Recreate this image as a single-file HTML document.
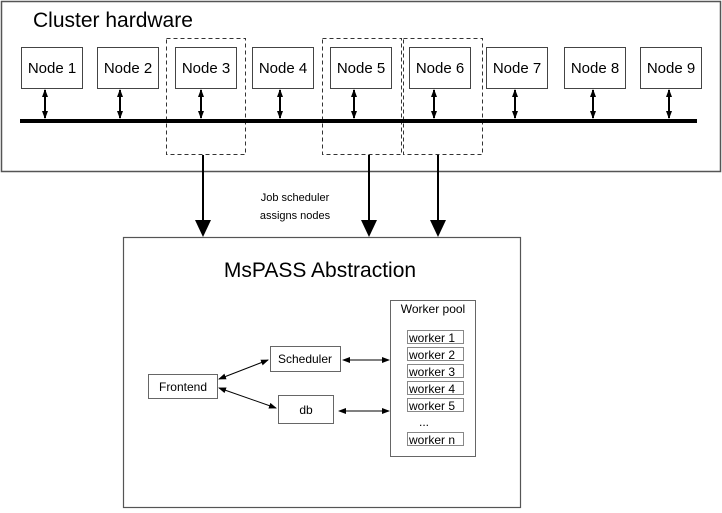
<!DOCTYPE html>
<html><head><style>body{margin:0;background:#fff}svg{display:block}text{font-family:"Liberation Sans",sans-serif}</style></head><body>
<svg width="722" height="513" viewBox="0 0 722 513" xmlns="http://www.w3.org/2000/svg">
<defs>
<marker id="a" markerWidth="8" markerHeight="8" refX="7" refY="4" orient="auto-start-reverse" markerUnits="userSpaceOnUse"><path d="M0,1 L8,4 L0,7 Z" fill="#000"/></marker>
</defs>
<rect x="1.5" y="1.5" width="719" height="170" fill="#fff" stroke="#555" stroke-width="1.5"/>
<text x="33" y="27" font-size="21">Cluster hardware</text>
<g stroke="#333" stroke-dasharray="4,3" fill="none" stroke-width="1">
<rect x="166.5" y="38.5" width="79" height="116"/>
<rect x="322.5" y="38.5" width="79" height="116"/>
<rect x="403.5" y="38.5" width="79" height="116"/>
</g>
<line x1="20" y1="121" x2="697" y2="121" stroke="#000" stroke-width="4"/>
<g font-size="15" text-anchor="middle">
<rect x="21.5" y="47.5" width="61" height="41" fill="#fff" stroke="#444"/><text x="52" y="73">Node 1</text>
<rect x="97.5" y="47.5" width="61" height="41" fill="#fff" stroke="#444"/><text x="128" y="73">Node 2</text>
<rect x="175.5" y="47.5" width="61" height="41" fill="#fff" stroke="#444"/><text x="206" y="73">Node 3</text>
<rect x="252.5" y="47.5" width="61" height="41" fill="#fff" stroke="#444"/><text x="283" y="73">Node 4</text>
<rect x="330.5" y="47.5" width="61" height="41" fill="#fff" stroke="#444"/><text x="361" y="73">Node 5</text>
<rect x="409.5" y="47.5" width="61" height="41" fill="#fff" stroke="#444"/><text x="440" y="73">Node 6</text>
<rect x="486.5" y="47.5" width="61" height="41" fill="#fff" stroke="#444"/><text x="517" y="73">Node 7</text>
<rect x="564.5" y="47.5" width="61" height="41" fill="#fff" stroke="#444"/><text x="595" y="73">Node 8</text>
<rect x="640.5" y="47.5" width="61" height="41" fill="#fff" stroke="#444"/><text x="671" y="73">Node 9</text>
</g>
<g stroke="#000" stroke-width="2" marker-start="url(#a)" marker-end="url(#a)">
<line x1="45" y1="90" x2="45" y2="118"/>
<line x1="120" y1="90" x2="120" y2="118"/>
<line x1="201" y1="90" x2="201" y2="118"/>
<line x1="280" y1="90" x2="280" y2="118"/>
<line x1="354" y1="90" x2="354" y2="118"/>
<line x1="434" y1="90" x2="434" y2="118"/>
<line x1="515" y1="90" x2="515" y2="118"/>
<line x1="593" y1="90" x2="593" y2="118"/>
<line x1="669" y1="90" x2="669" y2="118"/>
</g>
<g stroke="#000" stroke-width="2">
<line x1="203" y1="155" x2="203" y2="222"/>
<line x1="369" y1="155" x2="369" y2="222"/>
<line x1="438" y1="155" x2="438" y2="222"/>
</g>
<g fill="#000">
<path d="M195,220 L211,220 L203,237 Z"/>
<path d="M361,220 L377,220 L369,237 Z"/>
<path d="M430,220 L446,220 L438,237 Z"/>
</g>
<g font-size="11" text-anchor="middle"><text x="295" y="201">Job scheduler</text><text x="295" y="219">assigns nodes</text></g>
<rect x="123.5" y="237.5" width="397" height="270" fill="none" stroke="#555" stroke-width="1.2"/>
<text x="320" y="277" font-size="21" text-anchor="middle">MsPASS Abstraction</text>
<g fill="#fff" stroke="#666">
<rect x="390.5" y="300.5" width="85" height="156"/>
<rect x="148.5" y="374.5" width="69" height="24"/>
<rect x="270.5" y="346.5" width="70" height="25"/>
<rect x="278.5" y="395.5" width="55" height="28"/>
</g>
<g font-size="12" text-anchor="middle">
<text x="433" y="313">Worker pool</text>
<text x="183" y="391">Frontend</text>
<text x="305" y="363">Scheduler</text>
<text x="306" y="414">db</text>
</g>
<g fill="#fff" stroke="#888">
<rect x="407.5" y="330.5" width="56" height="13"/>
<rect x="407.5" y="347.5" width="56" height="13"/>
<rect x="407.5" y="364.5" width="56" height="13"/>
<rect x="407.5" y="381.5" width="56" height="13"/>
<rect x="407.5" y="398.5" width="56" height="13"/>
<rect x="407.5" y="432.5" width="56" height="13"/>
</g>
<g font-size="12">
<text x="409" y="342">worker 1</text>
<text x="409" y="359">worker 2</text>
<text x="409" y="376">worker 3</text>
<text x="409" y="393">worker 4</text>
<text x="409" y="410">worker 5</text>
<text x="419" y="426">...</text>
<text x="409" y="444">worker n</text>
</g>
<g stroke="#000" stroke-width="1" marker-start="url(#a)" marker-end="url(#a)">
<line x1="219" y1="379" x2="268" y2="360"/>
<line x1="219" y1="388" x2="276" y2="408"/>
<line x1="343" y1="360" x2="389" y2="360"/>
<line x1="339" y1="411" x2="389" y2="411"/>
</g>
</svg>
</body></html>
